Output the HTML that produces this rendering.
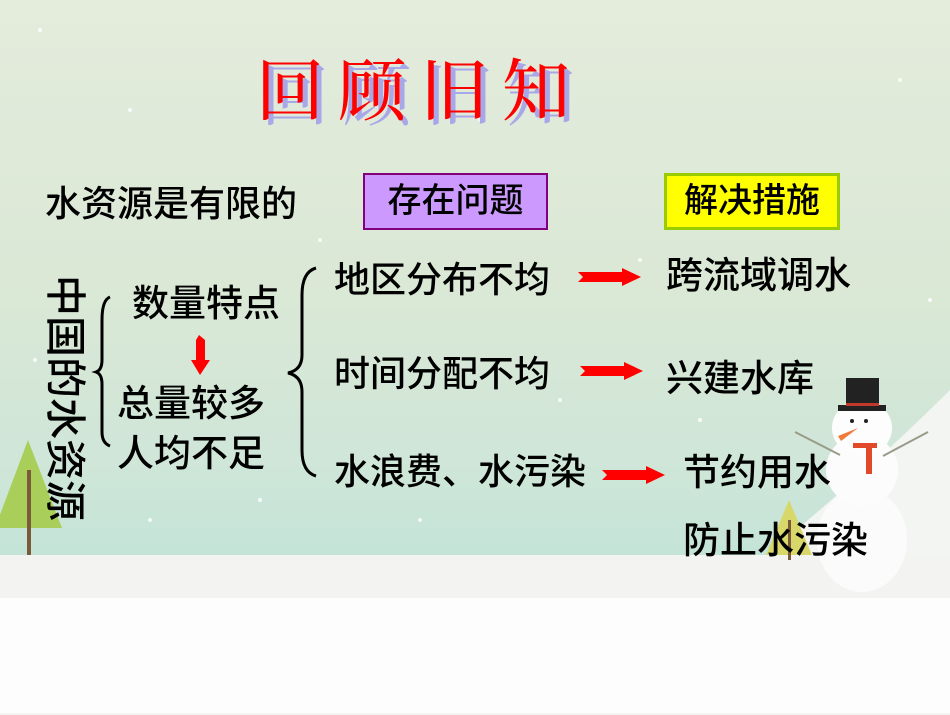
<!DOCTYPE html>
<html><head><meta charset="utf-8"><style>
*{margin:0;padding:0;box-sizing:border-box}
body{width:950px;height:713px;overflow:hidden;position:relative;
background:linear-gradient(180deg,#e4ecdc 0%,#dbe8d6 40%,#cfe6d8 65%,#c4e4d8 78%,#c4e4d8 100%);
font-family:"Liberation Sans","Noto Sans CJK SC",sans-serif;color:#000}
.t{position:absolute;white-space:nowrap;line-height:1;font-weight:500}
.ground{position:absolute;left:0;top:555px;width:950px;height:160px;background:#f3f4f2}
.bottom{position:absolute;left:0;top:598px;width:950px;height:115px;background:#fdfdfd}
</style></head><body>
<svg style="position:absolute;left:0;top:0" width="950" height="713">
<path d="M760 560 Q870 470 950 390 L950 600 L760 600Z" fill="#f3f5f3"/>
</svg>
<div class="ground"></div>
<div class="bottom"></div>
<svg style="position:absolute;left:0;top:0" width="950" height="713">
<polygon points="28,440 62,528 -5,528" fill="#a9cf5a"/>
<rect x="27" y="470" width="4" height="85" fill="#7a5a38"/>
<polygon points="789,500 812,555 766,555" fill="#d8d86a"/>
<rect x="788" y="520" width="3" height="40" fill="#7a5a38"/>
<ellipse cx="862" cy="540" rx="45" ry="52" fill="#fbfbfb"/>
<ellipse cx="862" cy="470" rx="36" ry="36" fill="#fcfcfc"/>
<ellipse cx="862" cy="428" rx="30" ry="28" fill="#fdfdfd"/>
<line x1="840" y1="455" x2="795" y2="432" stroke="#9a9a8a" stroke-width="2"/>
<line x1="883" y1="456" x2="928" y2="432" stroke="#9a9a8a" stroke-width="2"/>
<rect x="846" y="378" width="33" height="30" fill="#222"/>
<rect x="838" y="405" width="48" height="6" fill="#222"/>
<rect x="846" y="403" width="33" height="3" fill="#c0392b"/>
<circle cx="852" cy="421" r="2" fill="#222"/><circle cx="866" cy="421" r="2" fill="#222"/>
<polygon points="858,428 838,436 841,441" fill="#f07a3a"/>
<rect x="853" y="443" width="24" height="5" fill="#e04a2a"/>
<rect x="866" y="446" width="6" height="28" fill="#e04a2a"/>
<g fill="#fff" opacity=".8">
<circle cx="40" cy="30" r="2"/><circle cx="130" cy="110" r="2"/><circle cx="320" cy="240" r="2"/><circle cx="480" cy="120" r="2"/><circle cx="640" cy="260" r="2"/><circle cx="700" cy="420" r="2"/><circle cx="930" cy="300" r="2"/><circle cx="560" cy="400" r="2"/><circle cx="260" cy="500" r="2"/><circle cx="150" cy="520" r="2"/><circle cx="900" cy="80" r="2"/><circle cx="760" cy="200" r="2"/><circle cx="420" cy="520" r="2"/><circle cx="35" cy="360" r="2"/>
</g>
<path d="M110 297 Q102 300 102 320 L102 360 Q102 370 96 372 Q102 374 102 384 L102 432 Q102 443 110 446" fill="none" stroke="#000" stroke-width="3"/>
<path d="M316 268 Q302 272 302 295 L302 355 Q302 370 288 373 Q302 376 302 392 L302 450 Q302 472 316 476" fill="none" stroke="#000" stroke-width="3"/>
<g fill="#f00">
<polygon points="199,335 205,340 205,360 210,360 200,375 191,360 196,360 196,340"/>
<polygon points="578,272 622,272 622,268 641,277 622,286 622,282 578,282 583,277"/>
<polygon points="580,366 624,366 624,362 643,371 624,380 624,376 580,376 585,371"/>
<polygon points="602,470 646,470 646,466 665,475 646,484 646,480 602,480 607,475"/>
</g>
</svg>
<div class="t" style="left:256px;top:58px;font-family:'Liberation Serif','Noto Serif CJK SC',serif;font-size:68px;letter-spacing:14px;color:#f00;text-shadow:5px 5px 0 #a8a8e8">回顾旧知</div>
<div class="t" style="left:45px;top:186px;font-size:36px">水资源是有限的</div>
<div class="t" style="left:363px;top:173px;width:185px;height:57px;background:#cc99ff;border:2px solid #800080;font-size:34px;text-align:center;line-height:53px">存在问题</div>
<div class="t" style="left:664px;top:173px;width:176px;height:57px;background:#ffff00;border:3px solid #99cc00;font-size:34px;text-align:center;line-height:51px">解决措施</div>
<div class="t" style="left:44px;top:275px;font-size:41px;writing-mode:vertical-rl;text-orientation:sideways;line-height:41px">中国的水资源</div>
<div class="t" style="left:132px;top:285px;font-size:37px">数量特点</div>
<div class="t" style="left:117px;top:385px;font-size:37px">总量较多</div>
<div class="t" style="left:117px;top:435px;font-size:37px">人均不足</div>
<div class="t" style="left:334px;top:262px;font-size:36px">地区分布不均</div>
<div class="t" style="left:334px;top:356px;font-size:36px">时间分配不均</div>
<div class="t" style="left:334px;top:454px;font-size:36px">水浪费、水污染</div>
<div class="t" style="left:666px;top:257px;font-size:37px">跨流域调水</div>
<div class="t" style="left:666px;top:360px;font-size:37px">兴建水库</div>
<div class="t" style="left:683px;top:454px;font-size:37px">节约用水</div>
<div class="t" style="left:683px;top:522px;font-size:37px">防止水污染</div>
</body></html>
